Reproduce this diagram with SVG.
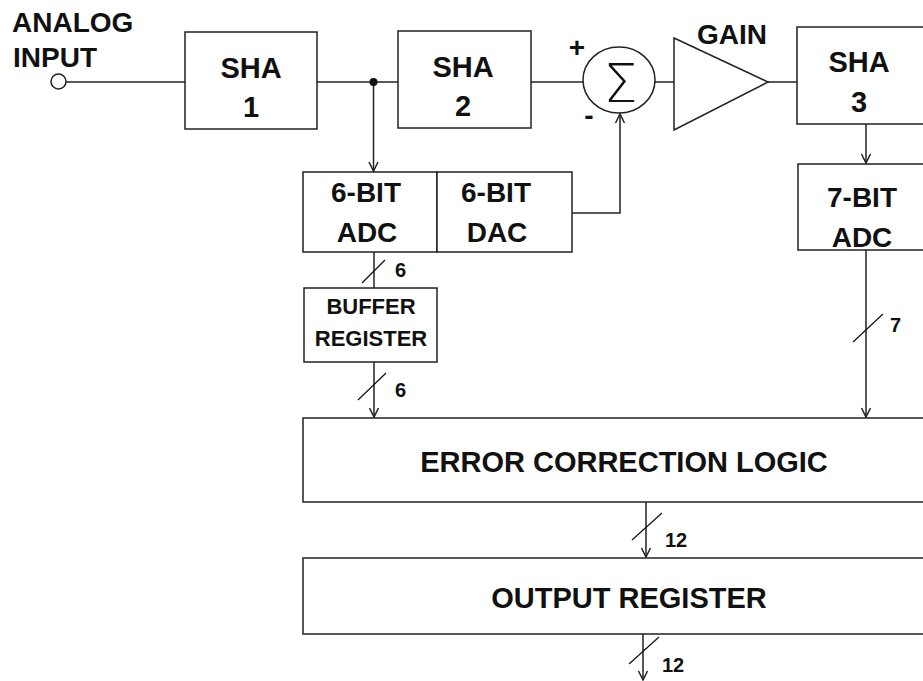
<svg xmlns="http://www.w3.org/2000/svg" width="923" height="681" viewBox="0 0 923 681">
<style>
.box{fill:#fff;stroke:#222;stroke-width:1.5}
.ln{fill:none;stroke:#222;stroke-width:1.5}
.sl{fill:none;stroke:#111;stroke-width:1.2}
text{font-family:"Liberation Sans",Arial,sans-serif;font-weight:bold;fill:#111}
.c{text-anchor:middle}
.t28{font-size:28px}
.t29{font-size:29px}
.t22{font-size:22px}
.t20{font-size:20px}
</style>
<defs>
<marker id="arr" viewBox="-10 -6 12 12" refX="0" refY="0" markerWidth="12" markerHeight="12" markerUnits="userSpaceOnUse" orient="auto">
<path d="M-9,-4.5 L0,0 L-9,4.5" fill="none" stroke="#222" stroke-width="1.5"/>
</marker>
</defs>
<rect width="923" height="681" fill="#fff"/>

<g id="connectors">
<line class="ln" x1="66" y1="82" x2="185" y2="82"/>
<line class="ln" x1="317" y1="82" x2="398" y2="82"/>
<line class="ln" x1="373.5" y1="82" x2="373.5" y2="171" marker-end="url(#arr)"/>
<line class="ln" x1="531" y1="82" x2="583" y2="82"/>
<polyline class="ln" points="572,213 620,213 620,114" marker-end="url(#arr)"/>
<line class="ln" x1="655" y1="82" x2="674" y2="82"/>
<line class="ln" x1="768" y1="82" x2="797" y2="82"/>
<line class="ln" x1="866" y1="124" x2="866" y2="163" marker-end="url(#arr)"/>
<line class="ln" x1="866" y1="250" x2="866" y2="417" marker-end="url(#arr)"/>
<line class="sl" x1="853" y1="342" x2="883" y2="314"/>
<line class="ln" x1="374" y1="252" x2="374" y2="288"/>
<line class="sl" x1="362" y1="283" x2="385" y2="260"/>
<line class="ln" x1="374" y1="362" x2="374" y2="417" marker-end="url(#arr)"/>
<line class="sl" x1="358" y1="400" x2="386" y2="373"/>
<line class="ln" x1="646" y1="502" x2="646" y2="557" marker-end="url(#arr)"/>
<line class="sl" x1="632" y1="540" x2="662" y2="513"/>
<line class="ln" x1="643" y1="634" x2="643" y2="680" marker-end="url(#arr)"/>
<line class="sl" x1="629" y1="664" x2="659" y2="637"/>
<circle cx="373.5" cy="82" r="4" fill="#111"/>
<text class="t20" x="395" y="277">6</text>
<text class="t20" x="395" y="397">6</text>
<text class="t20" x="890" y="332">7</text>
<text class="t20" x="665" y="547">12</text>
<text class="t20" x="662" y="672">12</text>
</g>

<g id="input">
<circle cx="58.5" cy="81.5" r="7.5" fill="#fff" stroke="#222" stroke-width="1.5"/>
<text class="t28" x="12" y="32">ANALOG</text>
<text class="t28" x="13" y="67">INPUT</text>
</g>

<g id="sha1">
<rect class="box" x="185" y="32" width="132" height="97"/>
<text class="t29 c" x="251" y="78">SHA</text>
<text class="t29 c" x="251" y="117">1</text>
</g>

<g id="sha2">
<rect class="box" x="398" y="31" width="133" height="97"/>
<text class="t29 c" x="463" y="77">SHA</text>
<text class="t29 c" x="463" y="116">2</text>
</g>

<g id="sum">
<ellipse cx="619" cy="80" rx="36" ry="33" fill="#fff" stroke="#222" stroke-width="1.5"/>
<text x="620.5" y="102" class="c" style="font-family:'DejaVu Sans',sans-serif;font-weight:200;font-size:54px">Σ</text>
<text class="t28 c" x="577" y="57">+</text>
<text class="t28 c" x="589" y="125">-</text>
</g>

<g id="gain">
<polygon points="674,38 674,130 768,82" fill="#fff" stroke="#222" stroke-width="1.5"/>
<text class="t28 c" x="732" y="44">GAIN</text>
</g>

<g id="sha3">
<rect class="box" x="797" y="27" width="127" height="97"/>
<text class="t29 c" x="859" y="72">SHA</text>
<text class="t29 c" x="859" y="112">3</text>
</g>

<g id="adc7">
<rect class="box" x="798" y="164" width="126" height="86"/>
<text class="t28 c" x="862" y="207">7-BIT</text>
<text class="t28 c" x="862" y="247">ADC</text>
</g>

<g id="adc6">
<rect class="box" x="303" y="172" width="134" height="80"/>
<text class="t28 c" x="366" y="202">6-BIT</text>
<text class="t28 c" x="367" y="242">ADC</text>
</g>

<g id="dac6">
<rect class="box" x="437" y="172" width="135" height="80"/>
<text class="t28 c" x="496" y="202">6-BIT</text>
<text class="t28 c" x="497" y="242">DAC</text>
</g>

<g id="buffer">
<rect class="box" x="304" y="288" width="133" height="74"/>
<text class="t22 c" x="371" y="314">BUFFER</text>
<text class="t22 c" x="371" y="346">REGISTER</text>
</g>

<g id="ecl">
<rect class="box" x="303" y="418" width="645" height="84"/>
<text class="t29 c" x="624" y="472">ERROR CORRECTION LOGIC</text>
</g>

<g id="outreg">
<rect class="box" x="303" y="558" width="645" height="76"/>
<text class="t29 c" x="629" y="608">OUTPUT REGISTER</text>
</g>
</svg>
